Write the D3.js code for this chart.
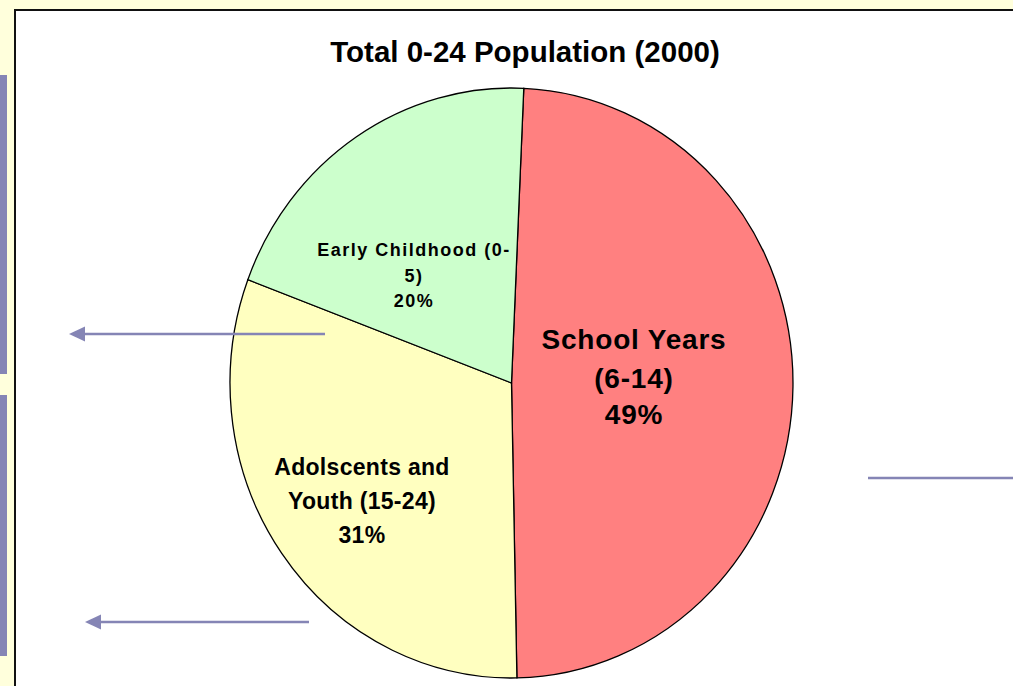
<!DOCTYPE html>
<html>
<head>
<meta charset="utf-8">
<script src="https://cdn.jsdelivr.net/npm/d3@7"></script>
<style>
  html, body { margin: 0; padding: 0; background: #ffffdc; }
  svg { display: block; }
  text { font-family: "Liberation Sans", Arial, sans-serif; font-weight: bold; fill: #000; }
</style>
</head>
<body>
<svg id="chart" width="1013" height="686"></svg>
<script>
// Population aged 0-24 in 2000, share by age band
const categories = ["School Years (6-14)", "Adolscents and Youth (15-24)", "Early Childhood (0-5)"];
const values = [49, 31, 20];
const colors = ["#ff8080", "#ffffc0", "#ccffcc"];
const labelLines = [
  ["School Years", "(6-14)", "49%"],
  ["Adolscents and", "Youth (15-24)", "31%"],
  ["Early Childhood (0-", "5)", "20%"]
];
const title = "Total 0-24 Population (2000)";

const W = 1013, H = 686;
const svg = d3.select("#chart");

// slide background, side boxes and white chart panel
svg.append("rect").attr("width", W).attr("height", H).attr("fill", "#ffffdc");
const boxStroke = "#8585b5";
[[75, 374], [395, 656]].forEach(([y0, y1]) => {
  svg.append("rect")
    .attr("x", -30).attr("y", y0 + 2.5)
    .attr("width", 33.5).attr("height", y1 - y0 - 5)
    .attr("fill", "#ffffdc").attr("stroke", boxStroke).attr("stroke-width", 5);
  svg.append("rect").attr("x", 0).attr("y", y0).attr("width", 7).attr("height", y1 - y0).attr("fill", boxStroke);
});
svg.append("rect")
  .attr("x", 15).attr("y", 10).attr("width", W).attr("height", H)
  .attr("fill", "#ffffff").attr("stroke", "#111").attr("stroke-width", 2);

// title
svg.append("text")
  .attr("x", 525).attr("y", 62)
  .attr("text-anchor", "middle")
  .style("font-size", "29.5px")
  .text(title);

// pie, drawn as a slightly tall ellipse
const cx = 511.5, cy = 383, rx = 281.5, ry = 295;
const start = 2.5 * Math.PI / 180;
const pie = d3.pie().sort(null).value(d => d)
  .startAngle(start)
  .endAngle(start + 2 * Math.PI);
const arc = d3.arc().innerRadius(0).outerRadius(rx);

const g = svg.append("g").attr("transform", `translate(${cx},${cy}) scale(1,${ry / rx})`);
g.selectAll("path")
  .data(pie(values))
  .join("path")
  .attr("d", arc)
  .attr("fill", (d, i) => colors[i])
  .attr("stroke", "#000")
  .attr("stroke-width", 1.3)
  .attr("vector-effect", "non-scaling-stroke");

// slice labels
const labelSpecs = [
  { x: 634, ys: [349, 388, 424], size: 28, spacing: 0.8 },
  { x: 362, ys: [475, 509, 543], size: 23, spacing: 0.3 },
  { x: 414, ys: [256, 282, 307], size: 18, spacing: 1.5 }
];
labelLines.forEach((lines, i) => {
  const s = labelSpecs[i];
  lines.forEach((t, j) => {
    svg.append("text")
      .attr("x", s.x).attr("y", s.ys[j])
      .attr("text-anchor", "middle")
      .style("font-size", s.size + "px")
      .style("letter-spacing", s.spacing + "px")
      .text(t);
  });
});

// pointer arrows
const arrowColor = "#8585b5";
function arrow(x0, x1, y) {
  svg.append("line")
    .attr("x1", x0).attr("x2", x1 + 14).attr("y1", y).attr("y2", y)
    .attr("stroke", arrowColor).attr("stroke-width", 2.5);
  svg.append("path")
    .attr("d", `M${x1},${y} L${x1 + 16},${y - 7.5} L${x1 + 16},${y + 7.5} Z`)
    .attr("fill", arrowColor);
}
arrow(325, 69, 334);
arrow(309, 85, 622);
svg.append("line")
  .attr("x1", 868).attr("x2", W).attr("y1", 478).attr("y2", 478)
  .attr("stroke", arrowColor).attr("stroke-width", 2.5);
</script>
</body>
</html>
